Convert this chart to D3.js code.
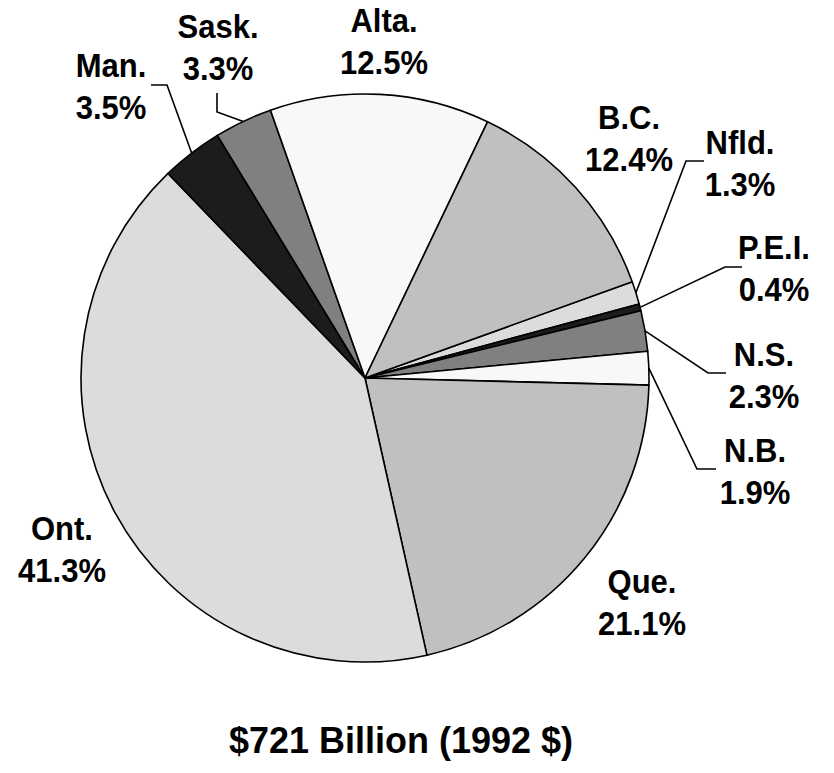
<!DOCTYPE html>
<html>
<head>
<meta charset="utf-8">
<script src="https://cdn.jsdelivr.net/npm/d3@7"></script>
<style>
  body { margin: 0; background: #fff; }
  text { font-family: "Liberation Sans", Arial, sans-serif; font-weight: bold; fill: #000; }
</style>
</head>
<body>
<script>
// provinces clockwise, starting just right of B.C.
var provinces = ['Nfld.', 'P.E.I.', 'N.S.', 'N.B.', 'Que.', 'Ont.', 'Man.', 'Sask.', 'Alta.', 'B.C.'];
var shares = [1.3, 0.4, 2.3, 1.9, 21.1, 41.3, 3.5, 3.3, 12.5, 12.4];
var fills = ['#dcdcdc', '#1c1c1c', '#808080', '#f8f8f8', '#c0c0c0', '#dcdcdc', '#1c1c1c', '#808080', '#f8f8f8', '#c0c0c0'];
var title = '$721 Billion (1992 $)';

// label placement (first baseline), leader elbow / end points
var labelPos = {
  'Nfld.': [740, 154], 'P.E.I.': [774, 259], 'N.S.': [764, 366], 'N.B.': [755, 462],
  'Que.': [642, 593], 'Ont.': [62, 540], 'Man.': [111, 77], 'Sask.': [218, 38],
  'Alta.': [384, 32], 'B.C.': [629, 129]
};
var leaders = {
  'Nfld.': [[686, 161], [704, 161]],
  'P.E.I.': [[725, 267], [742, 267]],
  'N.S.': [[708, 373], [726, 373]],
  'N.B.': [[697, 469], [716, 469]],
  'Man.': [[167, 85], [151, 85]],
  'Sask.': [[217, 112], [217, 93]]
};

var width = 834, height = 773;
var cx = 365, cy = 378, r = 284;
var start = 70.2 * Math.PI / 180;

var svg = d3.select('body').append('svg')
            .attr('width', width)
            .attr('height', height);

var pie = d3.pie().sort(null).value(function(d) { return d; })
            .startAngle(start).endAngle(start + 2 * Math.PI);
var arcs = pie(shares);
var arc = d3.arc().innerRadius(0).outerRadius(r);

var g = svg.append('g').attr('transform', 'translate(' + cx + ',' + cy + ')');

g.selectAll('path')
  .data(arcs)
  .enter().append('path')
  .attr('d', arc)
  .style('fill', function(d, i) { return fills[i]; })
  .style('stroke', '#000')
  .style('stroke-width', 1.6)
  .style('stroke-linejoin', 'round');

// leader lines from the arc's outer mid point
arcs.forEach(function(d, i) {
  var name = provinces[i];
  if (!leaders[name]) return;
  var mid = (d.startAngle + d.endAngle) / 2;
  var p0 = [cx + r * Math.sin(mid), cy - r * Math.cos(mid)];
  var pts = [p0].concat(leaders[name]);
  svg.append('path')
    .attr('d', d3.line()(pts))
    .style('fill', 'none')
    .style('stroke', '#000')
    .style('stroke-width', 1.6);
});

// labels are a bit taller than plain Arial in the original
function label(x, y, s, size, sy) {
  svg.append('text')
    .attr('transform', 'translate(' + x + ',' + y + ') scale(1,' + sy + ')')
    .attr('text-anchor', 'middle')
    .style('font-size', size + 'px')
    .text(s);
}

provinces.forEach(function(name, i) {
  var p = labelPos[name];
  label(p[0], p[1], name, 31, 1.06);
  label(p[0], p[1] + 42, shares[i].toFixed(1) + '%', 31, 1.06);
});

label(401, 753, title, 36, 1.04);
</script>
</body>
</html>
